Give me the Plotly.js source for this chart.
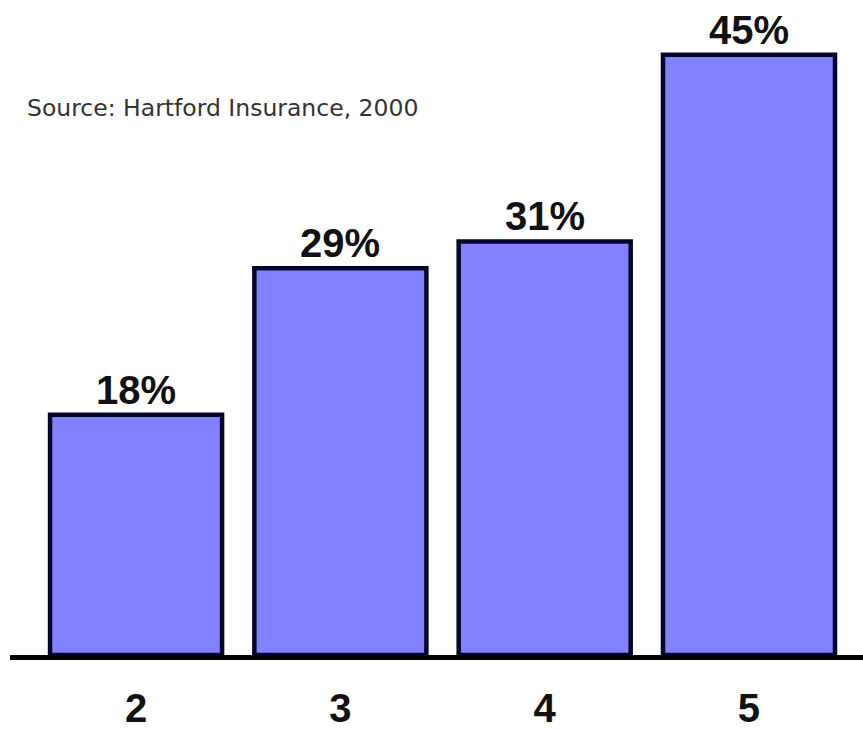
<!DOCTYPE html>
<html>
<head>
<meta charset="utf-8">
<script src="https://cdn.plot.ly/plotly-3.0.1.min.js"></script>
<style>html,body{margin:0;padding:0;background:#fff;}#chart{width:863px;height:730px;}</style>
</head>
<body>
<div id="chart"></div>
<script>
const categories = ["2", "3", "4", "5"];
const values = [18, 29, 31, 45];
const valueLabels = ["18%", "29%", "31%", "45%"];
const sourceNote = "Source: Hartford Insurance, 2000";

const trace = {
  type: "bar",
  x: categories,
  y: values,
  marker: { color: "#8282FF", line: { color: "#05052A", width: 4.5 } },
  hoverinfo: "none"
};

const annotations = categories.map((c, i) => ({
  x: i, y: values[i], xref: "x", yref: "y",
  text: "<b>" + valueLabels[i] + "</b>",
  showarrow: false, yanchor: "bottom", yshift: 1,
  font: { family: "Liberation Sans, Arial, sans-serif", size: 40, color: "#111" }
}));
annotations.push({
  xref: "paper", yref: "paper", x: 0.018, y: 0.862, xanchor: "left", yanchor: "middle",
  text: sourceNote, showarrow: false,
  font: { family: "DejaVu Sans, Liberation Sans, Arial, sans-serif", size: 23.5, color: "#333" }
});

const layout = {
  width: 863, height: 730,
  margin: { l: 10, r: 0, t: 20, b: 75 },
  paper_bgcolor: "#fff", plot_bgcolor: "#fff",
  showlegend: false,
  bargap: 0.158,
  xaxis: {
    type: "category",
    range: [-0.617, 3.558],
    showline: true, linecolor: "#000", linewidth: 5,
    showgrid: false, zeroline: false, ticks: "",
    ticklabelstandoff: 14,
    tickfont: { family: "Liberation Sans, Arial, sans-serif", size: 40, color: "#111", weight: "bold" }
  },
  yaxis: {
    range: [0, 47.6], visible: false, showgrid: false, zeroline: false
  },
  annotations: annotations
};

Plotly.newPlot("chart", [trace], layout, { displayModeBar: false, staticPlot: true });
</script>
</body>
</html>
